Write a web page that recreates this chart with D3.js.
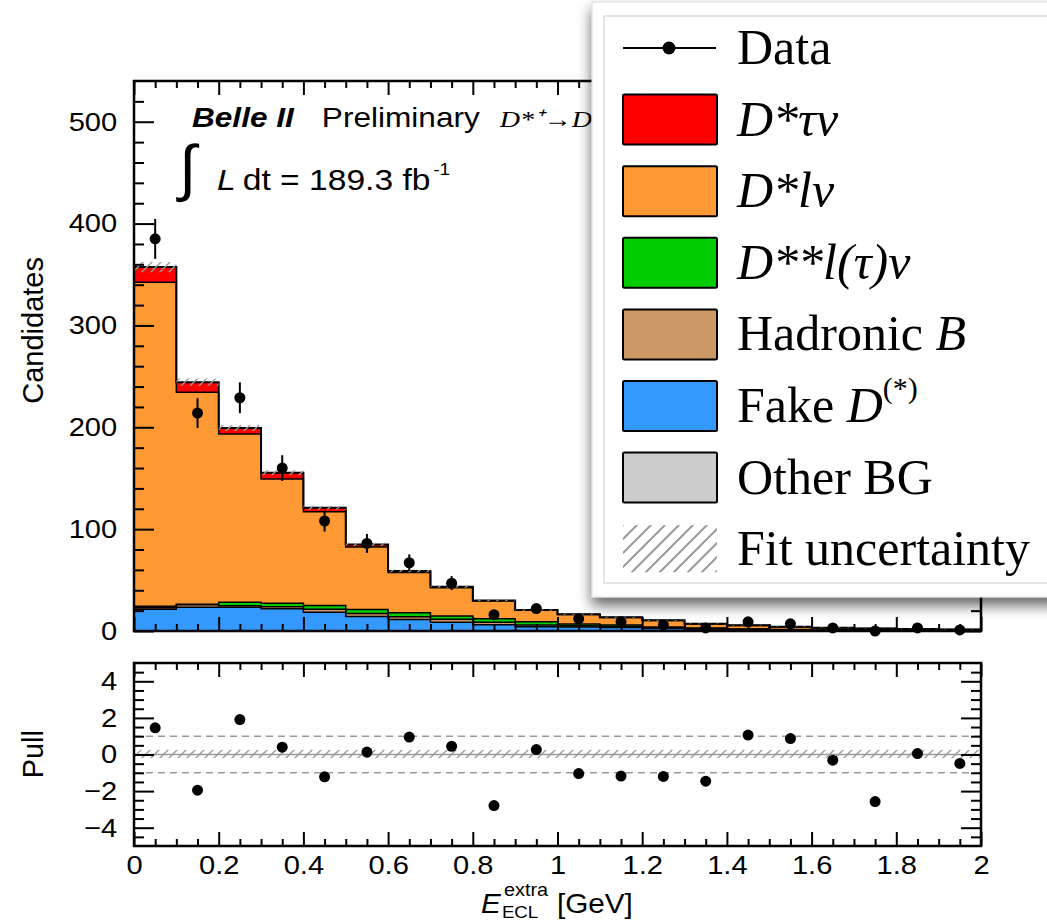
<!DOCTYPE html>
<html>
<head>
<meta charset="utf-8">
<script src="https://cdn.jsdelivr.net/npm/d3@7"></script>
<style>
body{margin:0;background:#fff}
svg{display:block;font-family:"Liberation Sans",Arial,sans-serif}
.tick text{font-size:26px;fill:#000;font-family:"Liberation Sans",Arial,sans-serif}
.tick line{stroke:#000;stroke-width:2}
.leg{font-family:"Liberation Serif","Times New Roman",serif;font-size:50px;fill:#000}
</style>
</head>
<body>
<script>
const binEdges = [0,0.1,0.2,0.3,0.4,0.5,0.6,0.7,0.8,0.9,1.0,1.1,1.2,1.3,1.4,1.5,1.6,1.7,1.8,1.9,2.0];
const dataCounts = [385,214,229,160,108,86,67,47,16,22,12,9,6,3,9,7,3,0,3,1];
const dataErr    = [19.6,14.6,15.1,12.6,10.4,9.3,8.2,6.9,4.0,4.7,3.5,3.0,2.4,1.7,3.0,2.6,1.7,0,1.7,1.0];
const otherBG = [0.3,0.3,0.3,0.3,0.3,0.2,0.2,0.2,0.2,0.1,0.1,0.1,0.1,0.1,0.1,0.1,0.1,0.1,0.1,0.1];
const fakeD   = [21,23,23,21.5,18,14,11,8.3,6,4,3.8,3.3,2.4,1.7,1.1,0.7,0.5,0.4,0.3,0.2];
const hadB    = [1.5,2.5,1.5,2,3,3,2.8,3,2.3,1.8,1.2,1,0.8,0.6,0.4,0.3,0.2,0.2,0.1,0.1];
const dssLNu  = [1.5,0.5,3.5,3.5,3.7,4,3.9,3.2,3.5,3.2,1.8,1.5,0.7,0.6,0.4,0.4,0.2,0.2,0.1,0.1];
const dsLNu   = [318,208,165,122,92,61.3,39.6,27.8,17.5,11.2,9.3,7.4,6.4,3.9,3.5,2.6,2.2,1.6,1.4,1.0];
const dsTauNu = [15,10,6,6,4,2.5,1.5,1,0.5,0.3,0.2,0.2,0.1,0.1,0.1,0.1,0.05,0.05,0,0];
const fitUnc  = [5,3.5,3,2.5,2,1.6,1.2,1,0.8,0.6,0.5,0.4,0.4,0.3,0.3,0.3,0.2,0.2,0.2,0.2];
const pulls   = [1.46,-1.95,1.91,0.40,-1.22,0.13,0.95,0.45,-2.79,0.27,-1.04,-1.18,-1.20,-1.46,1.06,0.87,-0.31,-2.57,0.05,-0.49];
const pullBand = [-0.2,0.25];
const yTicksMain = [0,100,200,300,400,500];
const yTicksPull = [-4,-2,0,2,4];
const xTicks = [0,0.2,0.4,0.6,0.8,1,1.2,1.4,1.6,1.8,2];

const keys = ["other","fake","hadB","dss","dl","dtau"];
const colors = {other:"#cccccc",fake:"#3399ff",hadB:"#cc9966",dss:"#00cc00",dl:"#ff9933",dtau:"#ff0000"};

const W=1047, H=923;
const svg = d3.select("body").append("svg").attr("width",W).attr("height",H);
svg.append("rect").attr("width",W).attr("height",H).attr("fill","#fff");

const x  = d3.scaleLinear().domain([0,2]).range([134,981]);
const y  = d3.scaleLinear().domain([0,540]).range([631,81]);
const yp = d3.scaleLinear().domain([-5,5]).range([846,663]);

const defs = svg.append("defs");
function hatch(id, size, w){
  const p = defs.append("pattern").attr("id",id).attr("patternUnits","userSpaceOnUse")
    .attr("width",size).attr("height",size);
  p.append("path").attr("d",`M0,${size} L${size},0 M${-size/2},${size/2} L${size/2},${-size/2} M${size/2},${size*1.5} L${size*1.5},${size/2}`)
    .attr("stroke","#9a9a9a").attr("stroke-width",w);
}
hatch("hatchS",9,1.4);
hatch("hatchL",14,2);
const f = defs.append("filter").attr("id","shadow").attr("x","-10%").attr("y","-10%").attr("width","130%").attr("height","130%");
f.append("feDropShadow").attr("dx",0).attr("dy",8).attr("stdDeviation",7).attr("flood-color","#000").attr("flood-opacity",0.6);
defs.append("clipPath").attr("id","clipMain").append("rect").attr("x",134).attr("y",81).attr("width",847).attr("height",550);
defs.append("clipPath").attr("id","clipPull").append("rect").attr("x",134).attr("y",663).attr("width",847).attr("height",183);

// ---- stacked histogram ----
const rows = binEdges.slice(0,-1).map((e,i)=>({lo:e,hi:binEdges[i+1],
  other:otherBG[i],fake:fakeD[i],hadB:hadB[i],dss:dssLNu[i],dl:dsLNu[i],dtau:dsTauNu[i]}));
const series = d3.stack().keys(keys)(rows);
function stepPts(s){
  const pts = s.map((d,i)=>({x:rows[i].lo,y0:d[0],y1:d[1]}));
  const last = s[s.length-1];
  pts.push({x:rows[rows.length-1].hi,y0:last[0],y1:last[1]});
  return pts;
}
const area = d3.area().x(d=>x(d.x)).y0(d=>y(d.y0)).y1(d=>y(d.y1)).curve(d3.curveStepAfter);
const topLine = d3.line().x(d=>x(d.x)).y(d=>y(d.y1)).curve(d3.curveStepAfter);

const gMain = svg.append("g").attr("clip-path","url(#clipMain)");
series.forEach(s=>{
  gMain.append("path").attr("d",area(stepPts(s))).attr("fill",colors[s.key]);
});
series.forEach(s=>{
  gMain.append("path").attr("d",topLine(stepPts(s))).attr("fill","none")
    .attr("stroke","#000").attr("stroke-width",s.key==="dtau"?2:1.5);
});
// fit uncertainty band
const totals = series[series.length-1].map(d=>d[1]);
const uncPts = rows.map((r,i)=>({x:r.lo,y0:totals[i]-fitUnc[i],y1:totals[i]+fitUnc[i]}));
uncPts.push({x:2,y0:uncPts[19].y0,y1:uncPts[19].y1});
gMain.append("path").attr("d",area(uncPts)).attr("fill","url(#hatchS)");

// data points
const centers = rows.map(r=>(r.lo+r.hi)/2);
gMain.selectAll(".eb").data(dataCounts).join("line")
  .attr("x1",(d,i)=>x(centers[i])).attr("x2",(d,i)=>x(centers[i]))
  .attr("y1",(d,i)=>y(d-dataErr[i])).attr("y2",(d,i)=>y(d+dataErr[i]))
  .attr("stroke","#000").attr("stroke-width",2);
svg.append("g").selectAll("circle").data(dataCounts).join("circle")
  .attr("cx",(d,i)=>x(centers[i])).attr("cy",d=>y(d)).attr("r",5.5).attr("fill","#000");

// ---- pull panel ----
const gPull = svg.append("g").attr("clip-path","url(#clipPull)");
gPull.append("rect").attr("x",x(0)).attr("width",x(2)-x(0))
  .attr("y",yp(pullBand[1])).attr("height",yp(pullBand[0])-yp(pullBand[1])).attr("fill","url(#hatchS)");
[-1,1].forEach(v=>gPull.append("line").attr("x1",x(0)).attr("x2",x(2)).attr("y1",yp(v)).attr("y2",yp(v))
  .attr("stroke","#9a9a9a").attr("stroke-width",1.5).attr("stroke-dasharray","7,5"));
gPull.append("line").attr("x1",x(0)).attr("x2",x(2)).attr("y1",yp(0)).attr("y2",yp(0))
  .attr("stroke","#9a9a9a").attr("stroke-width",1.5);
gPull.selectAll("circle").data(pulls).join("circle")
  .attr("cx",(d,i)=>x(centers[i])).attr("cy",d=>yp(d)).attr("r",5.5).attr("fill","#000");

// ---- axes (ROOT style, ticks inside on all four sides) ----
const xMinor = d3.range(0,2.0001,0.05).filter(v=>Math.abs(v*5-Math.round(v*5))>1e-6);
function frame(ys, yMaj, yMin, yMajLen, labelsX, yFmt){
  const [y0,y1] = ys.range();
  const g = svg.append("g");
  const clean = s=>s.call(a=>a.select(".domain").remove());
  // left
  g.append("g").attr("transform",`translate(${x(0)},0)`)
    .call(d3.axisLeft(ys).tickValues(yMaj).tickSizeInner(-yMajLen).tickSizeOuter(0).tickPadding(15).tickFormat(yFmt)).call(clean);
  g.append("g").attr("transform",`translate(${x(0)},0)`)
    .call(d3.axisLeft(ys).tickValues(yMin).tickSizeInner(-yMajLen/2).tickSizeOuter(0).tickFormat("")).call(clean);
  // right
  g.append("g").attr("transform",`translate(${x(2)},0)`)
    .call(d3.axisRight(ys).tickValues(yMaj).tickSizeInner(-yMajLen).tickSizeOuter(0).tickFormat("")).call(clean);
  g.append("g").attr("transform",`translate(${x(2)},0)`)
    .call(d3.axisRight(ys).tickValues(yMin).tickSizeInner(-yMajLen/2).tickSizeOuter(0).tickFormat("")).call(clean);
  // bottom
  g.append("g").attr("transform",`translate(0,${y0})`)
    .call(d3.axisBottom(x).tickValues(xTicks).tickSizeInner(-14).tickSizeOuter(0).tickPadding(10)
      .tickFormat(labelsX?d3.format("~g"):"")).call(clean);
  g.append("g").attr("transform",`translate(0,${y0})`)
    .call(d3.axisBottom(x).tickValues(xMinor).tickSizeInner(-7).tickSizeOuter(0).tickFormat("")).call(clean);
  // top
  g.append("g").attr("transform",`translate(0,${y1})`)
    .call(d3.axisTop(x).tickValues(xTicks).tickSizeInner(-14).tickSizeOuter(0).tickFormat("")).call(clean);
  g.append("g").attr("transform",`translate(0,${y1})`)
    .call(d3.axisTop(x).tickValues(xMinor).tickSizeInner(-7).tickSizeOuter(0).tickFormat("")).call(clean);
  g.selectAll(".tick text").attr("transform","scale(1.12,1)");
  g.append("rect").attr("x",x(0)).attr("y",y1).attr("width",x(2)-x(0)).attr("height",y0-y1)
    .attr("fill","none").attr("stroke","#000").attr("stroke-width",2.5);
}
frame(y, yTicksMain, d3.range(20,540,20).filter(v=>v%100!==0), 20, false, d3.format("d"));
frame(yp, yTicksPull, d3.range(-4.5,5,0.5).filter(v=>v%2!==0), 20, true, d3.format("d"));

// ---- axis titles ----
svg.append("text").attr("transform","translate(43,257) rotate(-90)").attr("text-anchor","end")
  .attr("font-size",29).text("Candidates");
svg.append("text").attr("transform","translate(43,730) rotate(-90)").attr("text-anchor","end")
  .attr("font-size",29).text("Pull");
const xt = svg.append("g").attr("transform","translate(481,0) scale(1.1,1)");
xt.append("text").attr("x",0).attr("y",913).attr("font-size",27).attr("font-style","italic").text("E");
xt.append("text").attr("x",21).attr("y",896).attr("font-size",18).text("extra");
xt.append("text").attr("x",19).attr("y",918).attr("font-size",17).text("ECL");
xt.append("text").attr("x",69).attr("y",913).attr("font-size",27).text("[GeV]");

// ---- labels inside plot ----
const lab = svg.append("g").attr("transform","translate(192,0) scale(1.17,1)");
lab.append("text").attr("x",0).attr("y",127).attr("font-size",27).attr("font-weight","bold").attr("font-style","italic").text("Belle II");
lab.append("text").attr("x",111).attr("y",127).attr("font-size",27).text("Preliminary");
lab.append("text").attr("x",263).attr("y",127).attr("font-size",24).attr("font-style","italic")
  .attr("font-family","Liberation Serif, serif").text("D*⁺→D⁰π⁺");
svg.append("text").attr("x",179).attr("y",189).attr("font-size",62).attr("font-family","DejaVu Sans, sans-serif")
  .attr("font-weight","300").text("∫");
const lum = svg.append("g").attr("transform","translate(217,0) scale(1.12,1)");
lum.append("text").attr("x",0).attr("y",190).attr("font-size",30).attr("font-style","italic").text("L");
lum.append("text").attr("x",23).attr("y",190).attr("font-size",30).text("dt = 189.3 fb");
lum.append("text").attr("x",193).attr("y",175).attr("font-size",17).text("-1");

// ---- legend ----
const leg = svg.append("g");
leg.append("rect").attr("x",592).attr("y",2).attr("width",480).attr("height",595)
  .attr("fill","#fff").attr("stroke","#dcdcdc").attr("filter","url(#shadow)");
leg.append("rect").attr("x",604).attr("y",16).attr("width",470).attr("height",567)
  .attr("fill","none").attr("stroke","#d4d4d4").attr("stroke-width",1.2);
const legendItems = [
  {type:"data", parts:[["Data",""]]},
  {type:"box", key:"dtau", parts:[["D*τν","italic"]]},
  {type:"box", key:"dl", parts:[["D*lν","italic"]]},
  {type:"box", key:"dss", parts:[["D**l(τ)ν","italic"]]},
  {type:"box", key:"hadB", parts:[["Hadronic ",""],["B","italic"]]},
  {type:"box", key:"fake", parts:[["Fake ",""],["D","italic"],["(*)","sup"]]},
  {type:"box", key:"other", parts:[["Other BG",""]]},
  {type:"hatch", parts:[["Fit uncertainty",""]]}
];
legendItems.forEach((it,i)=>{
  const cy = 48 + i*71.6;
  if(it.type==="data"){
    leg.append("line").attr("x1",623).attr("x2",716).attr("y1",cy).attr("y2",cy).attr("stroke","#000").attr("stroke-width",2);
    leg.append("circle").attr("cx",669).attr("cy",cy).attr("r",6.5).attr("fill","#000");
  } else if(it.type==="box"){
    leg.append("rect").attr("x",623).attr("y",cy-25).attr("width",94).attr("height",50)
      .attr("fill",colors[it.key]).attr("stroke","#000").attr("stroke-width",2).attr("rx",1.5);
  } else {
    leg.append("rect").attr("x",623).attr("y",cy-24).attr("width",94).attr("height",47).attr("fill","url(#hatchL)");
  }
  const t = leg.append("text").attr("class","leg").attr("x",737).attr("y",cy+16);
  it.parts.forEach(p=>{
    const ts = t.append("tspan").text(p[0]);
    if(p[1]==="italic") ts.attr("font-style","italic");
    if(p[1]==="sup") ts.attr("font-size",30).attr("dy",-24);
  });
});
</script>
</body>
</html>
